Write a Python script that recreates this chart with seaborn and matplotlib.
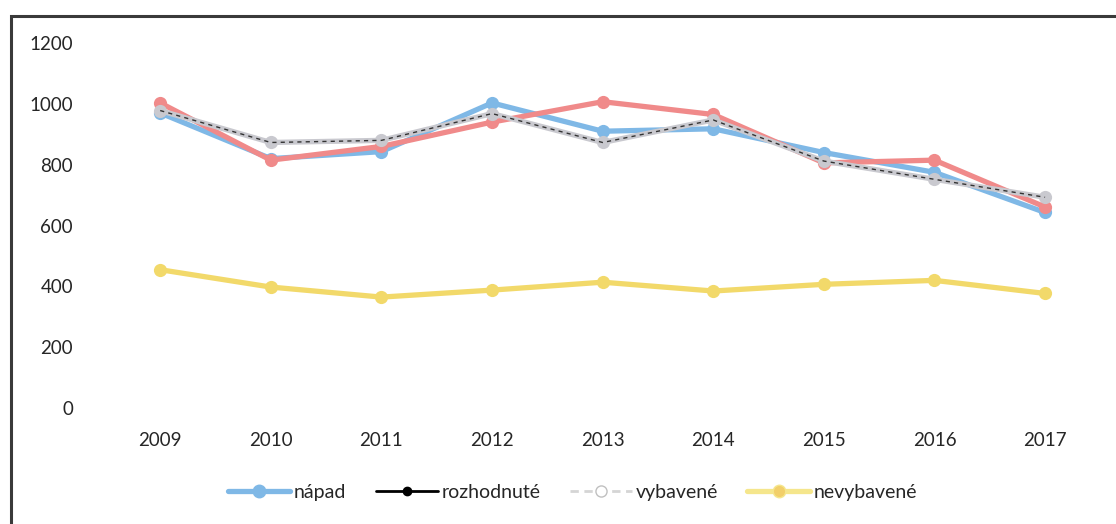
import pandas as pd
import seaborn as sns
import matplotlib.pyplot as plt
from matplotlib.lines import Line2D
from matplotlib.patches import Rectangle

years = [2009, 2010, 2011, 2012, 2013, 2014, 2015, 2016, 2017]
napad = [970, 820, 843, 1003, 910, 918, 840, 775, 643]
rozhodnute = [1003, 815, 860, 940, 1007, 965, 806, 815, 661]
vybavene = [978, 873, 880, 968, 873, 947, 812, 752, 693]
nevybavene = [455, 398, 365, 388, 414, 385, 407, 420, 377]

series = ["nápad", "rozhodnuté", "vybavené", "nevybavené"]
line_colors = ["#7fb8e6", "#f08a8a", "#c9c9cf", "#f2d96a"]

df = pd.DataFrame({"rok": years, "nápad": napad, "rozhodnuté": rozhodnute,
                   "vybavené": vybavene, "nevybavené": nevybavene})
long = df.melt(id_vars="rok", var_name="séria", value_name="počet")

sns.set_style("white")
plt.rcParams['font.family'] = ['Lato', 'DejaVu Sans']

fig = plt.figure(figsize=(11.16, 5.24), dpi=100)
ax = fig.add_axes([0.094, 0.221, 0.892, 0.697])

sns.lineplot(data=long, x="rok", y="počet", hue="séria", hue_order=series,
             palette=dict(zip(series, line_colors)), linewidth=3.8,
             marker="o", markersize=9.5, markeredgewidth=0, ax=ax, legend=False)

# dark dotted trace running along the grey series
ax.plot(years, vybavene, color="#333333", linewidth=1.0, linestyle=(0, (3, 3)))

ax.set_xlim(2008.5, 2017.5)
ax.set_ylim(0, 1200)
ax.set_xticks(years)
ax.set_yticks(range(0, 1201, 200))
ax.set_xlabel("")
ax.set_ylabel("")
ax.tick_params(axis="both", labelsize=13.5, length=0)
ax.tick_params(axis="x", pad=17)
ax.tick_params(axis="y", pad=23)
sns.despine(ax=ax, left=True, bottom=True)

handles = [
    Line2D([], [], color="#7fb8e6", linewidth=3.8, marker="o", markersize=9),
    Line2D([], [], color="black", linewidth=2, marker="o", markersize=6),
    Line2D([], [], color="#d5d5d5", linewidth=2, linestyle=(0, (3, 2)),
           marker="o", markersize=8, markerfacecolor="white", markeredgecolor="#c0c0c0"),
    Line2D([], [], color="#f5e68c", linewidth=3.8, marker="o", markersize=9,
           markerfacecolor="#f2cf6a"),
]
fig.legend(handles, series, loc="center", bbox_to_anchor=(0.513, 0.061),
           ncol=4, frameon=False, fontsize=14, handlelength=3.2,
           handletextpad=0.2, columnspacing=1.5)

# outer chart frame (top and left edges visible in the scan)
fig.patches.append(Rectangle((0.010, -0.1), 1.1, 1.069, transform=fig.transFigure,
                             fill=False, edgecolor="#3a3a3a", linewidth=2.2))

fig.savefig("out.png", dpi=100)
